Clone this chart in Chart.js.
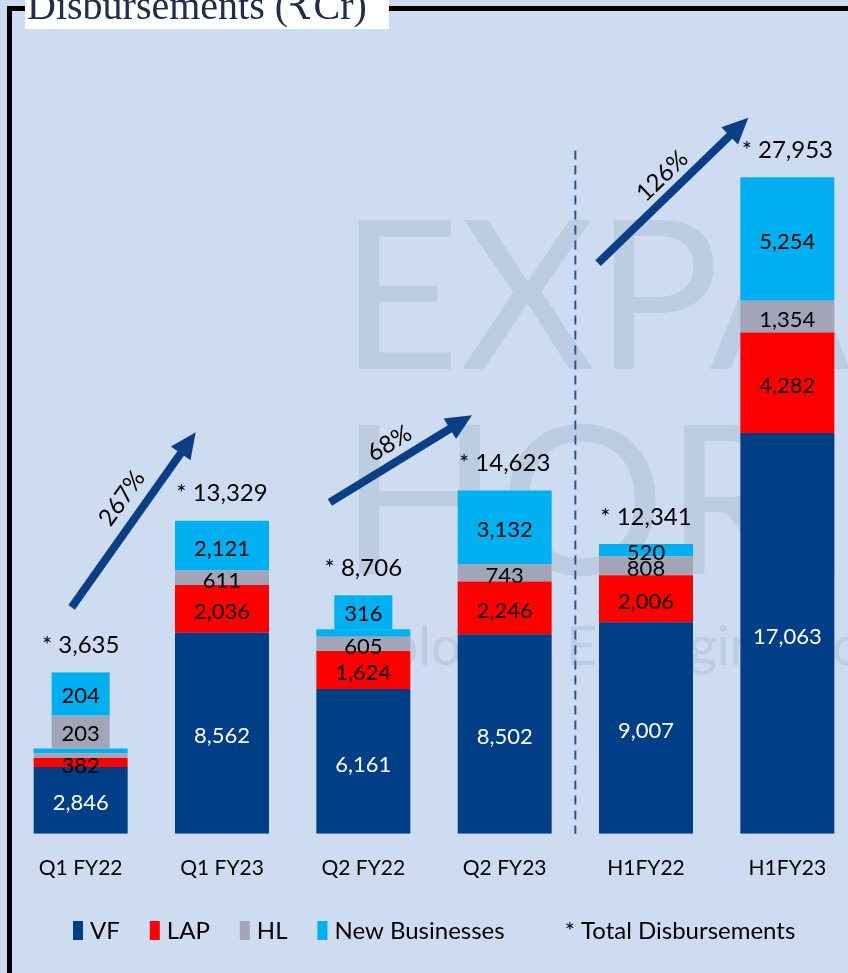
<!DOCTYPE html>
<html>
<head>
<meta charset="utf-8">
<script src="https://cdn.jsdelivr.net/npm/chart.js@4.4.1/dist/chart.umd.min.js"></script>
<style>
  html, body { margin: 0; padding: 0; background: #cddcf1; }
  #wrap { position: relative; width: 848px; height: 973px; overflow: hidden; }
  canvas { position: absolute; left: 0; top: 0; }
</style>
</head>
<body>
<div id="wrap">
  <canvas id="disbursements" width="870" height="973" style="width:870px;height:973px"></canvas>
</div>
<script>
// Données (₹ Cr)
const periods = ['Q1 FY22', 'Q1 FY23', 'Q2 FY22', 'Q2 FY23', 'H1FY22', 'H1FY23'];
const vfValues = [2846, 8562, 6161, 8502, 9007, 17063];
const lapValues = [382, 2036, 1624, 2246, 2006, 4282];
const hlValues = [203, 611, 605, 743, 808, 1354];
const newBusinessValues = [204, 2121, 316, 3132, 520, 5254];
const totalValues = [3635, 13329, 8706, 14623, 12341, 27953];
const growthLabels = ['267%', '68%', '126%'];

const seriesNames = ['VF', 'LAP', 'HL', 'New Businesses'];
const seriesColors = ['#003e87', '#ff0000', '#a2a5b7', '#00b0f0'];
const labelColors = ['#ffffff', '#000000', '#000000', '#000000'];

const FONT = 'Lato, "Open Sans", "DejaVu Sans", sans-serif';

function formatNumber(value) {
  return value.toLocaleString('en-US');
}

// Fond : filigrane, cadre et titre
const backgroundPlugin = {
  id: 'background',
  beforeDatasetsDraw(chart) {
    const ctx = chart.ctx;
    ctx.save();
    ctx.fillStyle = 'rgba(120, 140, 165, 0.2)';
    ctx.textBaseline = 'alphabetic';
    ctx.textAlign = 'left';
    ctx.font = '208px ' + FONT;
    ctx.fillText('EXPAN', 340, 369);
    ctx.fillText('HORIZ', 340, 574);
    ctx.font = '54px ' + FONT;
    ctx.fillText('Exploring Emerging Economies', 330, 665);
    ctx.restore();
  },
  afterDraw(chart) {
    const ctx = chart.ctx;
    ctx.save();
    ctx.fillStyle = '#000000';
    ctx.fillRect(7, 6, 5, chart.height);
    ctx.fillRect(7, 6, chart.width, 5);
    ctx.fillStyle = '#ffffff';
    ctx.fillRect(25, 0, 364, 29);
    ctx.fillStyle = '#242c4c';
    ctx.font = '40px "Liberation Serif", "DejaVu Serif", serif';
    ctx.textBaseline = 'alphabetic';
    ctx.fillText('Disbursements (₹Cr)', 27, 19);
    ctx.restore();
  },
};

// Étiquettes des segments, boîtes au-dessus des petites valeurs et totaux
const segmentLabelsPlugin = {
  id: 'segmentLabels',
  afterDatasetsDraw(chart, args, opts) {
    const ctx = chart.ctx;
    ctx.save();
    ctx.textAlign = 'center';
    ctx.textBaseline = 'middle';
    periods.forEach((period, i) => {
      let stackTop = null;
      chart.data.datasets.forEach((dataset, d) => {
        const bar = chart.getDatasetMeta(d).data[i];
        const { x, y, base } = bar.getProps(['x', 'y', 'base'], true);
        stackTop = stackTop === null ? y : Math.min(stackTop, y);
        const boxed = opts.callouts.find((c) => c.index === i && c.series === d);
        if (boxed) return;
        ctx.font = '22px ' + FONT;
        ctx.fillStyle = labelColors[d];
        ctx.fillText(formatNumber(dataset.data[i]), x, (y + base) / 2 + 3);
      });
      const x = chart.getDatasetMeta(0).data[i].x;
      opts.callouts
        .filter((c) => c.index === i)
        .forEach((c) => {
          const top = stackTop - c.height;
          ctx.fillStyle = seriesColors[c.series];
          ctx.fillRect(x - opts.calloutWidth / 2, top, opts.calloutWidth, c.height);
          ctx.fillStyle = labelColors[c.series];
          ctx.font = '22px ' + FONT;
          ctx.fillText(formatNumber(chart.data.datasets[c.series].data[i]), x, top + c.height / 2 + 2);
          stackTop = top;
        });
      ctx.font = '24px ' + FONT;
      ctx.fillStyle = '#000000';
      ctx.fillText('* ' + formatNumber(totalValues[i]), x, stackTop - 27);
    });
    ctx.restore();
  },
};

// Flèches de croissance et séparateur pointillé
const arrowsPlugin = {
  id: 'growthArrows',
  afterDatasetsDraw(chart, args, opts) {
    const ctx = chart.ctx;
    const xScale = chart.scales.x;
    const yScale = chart.scales.y;
    const x0 = xScale.getPixelForValue(0);
    const step = xScale.getPixelForValue(1) - x0;
    const px = (idx) => x0 + idx * step;

    ctx.save();
    // séparateur
    ctx.strokeStyle = '#2f5597';
    ctx.lineWidth = 2;
    ctx.setLineDash([9, 6]);
    ctx.beginPath();
    ctx.moveTo(px(opts.divider.index), yScale.getPixelForValue(opts.divider.from));
    ctx.lineTo(px(opts.divider.index), yScale.getPixelForValue(opts.divider.to));
    ctx.stroke();
    ctx.setLineDash([]);

    opts.arrows.forEach((arrow, k) => {
      const sx = px(arrow.from[0]);
      const sy = yScale.getPixelForValue(arrow.from[1]);
      const ex = px(arrow.to[0]);
      const ey = yScale.getPixelForValue(arrow.to[1]);
      const angle = Math.atan2(ey - sy, ex - sx);
      const len = Math.hypot(ex - sx, ey - sy);
      const head = 26;
      ctx.save();
      ctx.translate(sx, sy);
      ctx.rotate(angle);
      ctx.fillStyle = '#0a3f86';
      ctx.fillRect(0, -4, len - head + 2, 8);
      ctx.beginPath();
      ctx.moveTo(len, 0);
      ctx.lineTo(len - head, -12);
      ctx.lineTo(len - head, 12);
      ctx.closePath();
      ctx.fill();
      // étiquette le long de la flèche
      ctx.translate(len * arrow.labelAt, -arrow.labelOffset);
      ctx.fillStyle = '#000000';
      ctx.font = '24px ' + FONT;
      ctx.textAlign = 'center';
      ctx.textBaseline = 'middle';
      ctx.fillText(growthLabels[k], 0, 0);
      ctx.restore();
    });
    ctx.restore();
  },
};

// Légende dessinée à la main
const legendPlugin = {
  id: 'customLegend',
  afterDraw(chart, args, opts) {
    const ctx = chart.ctx;
    ctx.save();
    ctx.font = '24px ' + FONT;
    ctx.textBaseline = 'middle';
    ctx.textAlign = 'left';
    let x = opts.startX;
    const y = opts.y;
    seriesNames.forEach((name, d) => {
      ctx.fillStyle = seriesColors[d];
      ctx.fillRect(x, y - 9, 10, 19);
      x += 17;
      ctx.fillStyle = '#000000';
      ctx.fillText(name, x, y + 1);
      x += ctx.measureText(name).width + 30;
    });
    ctx.fillText('* Total Disbursements', x + 30, y + 1);
    ctx.restore();
  },
};

const datasets = [vfValues, lapValues, hlValues, newBusinessValues].map((values, d) => ({
  label: seriesNames[d],
  data: values,
  backgroundColor: seriesColors[d],
  borderWidth: 0,
  categoryPercentage: 1,
  barPercentage: 0.665,
}));

new Chart(document.getElementById('disbursements'), {
  type: 'bar',
  data: { labels: periods, datasets },
  options: {
    responsive: false,
    animation: false,
    layout: { padding: { left: 10, right: 12, top: 40, bottom: 70 } },
    plugins: {
      legend: { display: false },
      tooltip: { enabled: false },
      segmentLabels: {
        calloutWidth: 58,
        callouts: [
          { index: 0, series: 2, height: 33 },
          { index: 0, series: 3, height: 43 },
          { index: 2, series: 3, height: 34 },
        ],
      },
      growthArrows: {
        divider: { index: 3.5, from: 29100, to: 0 },
        arrows: [
          { from: [-0.064, 9640], to: [0.814, 17100], labelAt: 0.55, labelOffset: 22 },
          { from: [1.763, 14115], to: [2.769, 17825], labelAt: 0.49, labelOffset: 19 },
          { from: [3.661, 24300], to: [4.724, 30490], labelAt: 0.51, labelOffset: 18 },
        ],
      },
      customLegend: { startX: 73, y: 930 },
    },
    scales: {
      x: {
        stacked: true,
        grid: { display: false, drawTicks: false },
        border: { display: false },
        ticks: { color: '#000000', font: { family: FONT, size: 21 }, padding: 22 },
      },
      y: {
        stacked: true,
        display: false,
        min: 0,
        max: 33800,
      },
    },
  },
  plugins: [backgroundPlugin, segmentLabelsPlugin, arrowsPlugin, legendPlugin],
});
</script>
</body>
</html>
